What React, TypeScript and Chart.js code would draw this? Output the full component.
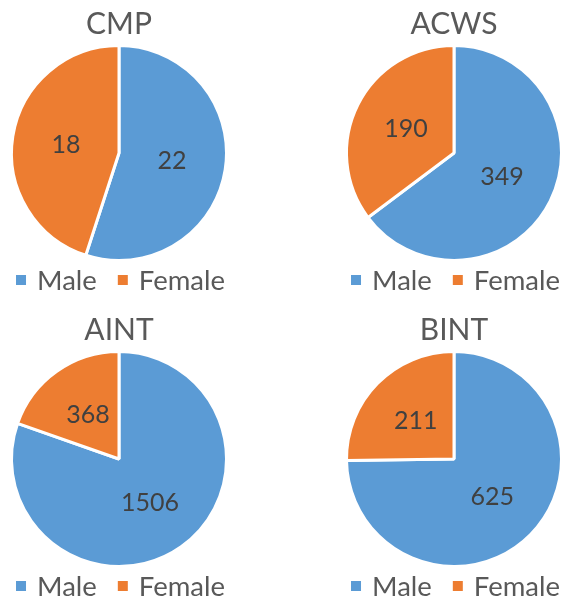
import React, { useEffect, useRef } from "react";
import { Chart, registerables } from "chart.js";

Chart.register(...registerables);

// ---- data ----
const categories = ["Male", "Female"];
const chartTitles = ["CMP", "ACWS", "AINT", "BINT"];
const maleValues = [22, 349, 1506, 625];
const femaleValues = [18, 190, 368, 211];
const sliceColors = ["#5B9BD5", "#ED7D31"];

const FONT = "Lato, 'Open Sans', sans-serif";
const TEXT_GREY = "#595959";
const LABEL_DARK = "#404040";

const sliceLabelPlugin = {
  id: "sliceLabels",
  afterDatasetsDraw(chart: any) {
    const ctx = chart.ctx;
    const meta = chart.getDatasetMeta(0);
    const values = chart.data.datasets[0].data;
    ctx.save();
    ctx.font = `25px ${FONT}`;
    ctx.fillStyle = LABEL_DARK;
    ctx.textAlign = "center";
    ctx.textBaseline = "middle";
    meta.data.forEach((arc: any, i: number) => {
      const p = arc.tooltipPosition(false);
      ctx.fillText(String(values[i]), p.x, p.y);
    });
    ctx.restore();
  },
};

const bottomLegendPlugin = {
  id: "bottomLegend",
  afterDraw(chart: any) {
    const { ctx, chartArea } = chart;
    const labels: string[] = chart.data.labels;
    const colors: string[] = chart.data.datasets[0].backgroundColor;
    ctx.save();
    ctx.font = `27.5px ${FONT}`;
    ctx.textAlign = "left";
    ctx.textBaseline = "alphabetic";
    const box = 10;
    const gapText = 11;
    const gapItem = 21;
    const widths = labels.map((l) => ctx.measureText(l).width);
    const total =
      widths.reduce((s, w) => s + box + gapText + w, 0) + gapItem * (labels.length - 1);
    let x = (chartArea.left + chartArea.right) / 2 + 1.5 - total / 2;
    const baseline = chartArea.bottom + 28;
    labels.forEach((l, i) => {
      ctx.fillStyle = colors[i];
      ctx.fillRect(x, baseline - 15, box, box);
      x += box + gapText;
      ctx.fillStyle = TEXT_GREY;
      ctx.fillText(l, x, baseline);
      x += widths[i] + gapItem;
    });
    ctx.restore();
  },
};

function PieChart({
  title,
  male,
  female,
  left,
  top,
}: {
  title: string;
  male: number;
  female: number;
  left: number;
  top: number;
}) {
  const ref = useRef<HTMLCanvasElement | null>(null);
  useEffect(() => {
    if (!ref.current) return;
    const chart = new Chart(ref.current, {
      type: "pie",
      data: {
        labels: categories,
        datasets: [
          {
            data: [male, female],
            backgroundColor: sliceColors,
            borderColor: "#ffffff",
            borderWidth: 3,
          },
        ],
      },
      options: {
        responsive: false,
        animation: false,
        layout: { padding: { left: 11, right: 11, top: 0, bottom: 38 } },
        plugins: {
          legend: { display: false },
          tooltip: { enabled: false },
          title: {
            display: true,
            text: title,
            color: TEXT_GREY,
            font: { family: FONT, size: 30, weight: "normal" },
            padding: { top: 6, bottom: 2 },
          },
        },
      },
      plugins: [sliceLabelPlugin, bottomLegendPlugin],
    } as any);
    return () => chart.destroy();
  }, [title, male, female]);
  return (
    <div style={{ position: "absolute", left, top, width: 240, height: 300 }}>
      <canvas ref={ref} width={240} height={300} />
    </div>
  );
}

const positions = [
  { left: -1, top: 0 },
  { left: 334, top: 0 },
  { left: -1, top: 306 },
  { left: 334, top: 306 },
];

export default function App() {
  return (
    <div
      style={{
        position: "absolute",
        left: 0,
        top: 0,
        width: 566,
        height: 600,
        overflow: "hidden",
        background: "#ffffff",
      }}
    >
      {chartTitles.map((t, i) => (
        <PieChart
          key={t}
          title={t}
          male={maleValues[i]}
          female={femaleValues[i]}
          left={positions[i].left}
          top={positions[i].top}
        />
      ))}
    </div>
  );
}
